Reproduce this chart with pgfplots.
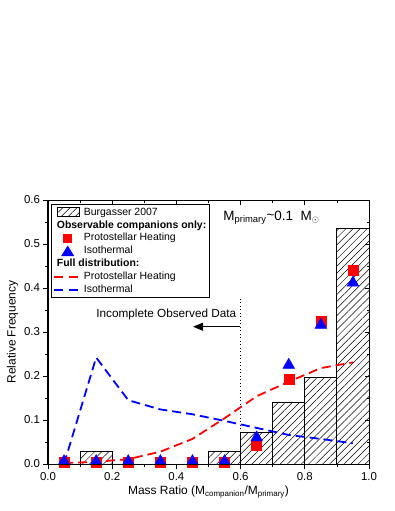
\documentclass[border=0pt]{standalone}
\usepackage{pgfplots}
\pgfplotsset{compat=1.18}
\usepackage{fontspec}
\setmainfont{Liberation Sans}
\usetikzlibrary{patterns.meta,arrows.meta}
\tikzset{hatch/.style={pattern={Lines[angle=45,distance=5bp,line width=0.5pt]}, pattern color=black}}
\newcommand{\fs}[1]{\fontsize{#1}{#1}\selectfont}
\begin{document}
\begin{tikzpicture}
\path[use as bounding box] (-48bp,-47bp) rectangle (347bp,464bp);
\begin{axis}[
  width=321bp, height=264bp, scale only axis,
  xmin=0, xmax=1, ymin=0, ymax=0.6,
  xtick={0,0.2,0.4,0.6,0.8,1.0}, ytick={0,0.1,0.2,0.3,0.4,0.5,0.6},
  minor x tick num=1, minor y tick num=1,
  xtick pos=left, ytick pos=left, tick align=outside,
  major tick length=4.5bp, minor tick length=2.5bp,
  axis line style={line width=1bp}, every tick/.style={black, line width=0.8bp},
  /pgf/number format/.cd, fixed, fixed zerofill, precision=1, assume math mode=true,
  /pgfplots/.cd,
  tick label style={font=\fs{11.5}},
  xlabel={Mass Ratio (M\textsubscript{companion}/M\textsubscript{primary})},
  ylabel={Relative Frequency},
  label style={font=\fs{12}},
  xlabel style={yshift=1bp},
  ylabel style={yshift=-1bp},
  clip=false,
  legend style={at={(0.009,0.985)}, anchor=north west, draw=black, line width=0.8bp,
     inner sep=1.5bp, font=\fs{10.5}, row sep=0bp,
     nodes={inner sep=1.3bp, text height=8bp, text depth=2.3bp}},
  legend cell align=left,
]
% histogram
\addplot[ybar interval, draw=black, line width=0.9bp, hatch, forget plot] coordinates {
 (0.0,0) (0.1,0.028) (0.2,0) (0.3,0) (0.4,0) (0.5,0.028) (0.6,0.071) (0.7,0.141) (0.8,0.197) (0.9,0.535) (1.0,0.535)};
% dotted line
\addplot[black, line width=1bp, dash pattern=on 1bp off 2.5bp, forget plot] coordinates {(0.6,0) (0.6,0.375)};
% full distributions
\addplot[red, line width=1.8bp, dash pattern=on 9bp off 5bp, forget plot] coordinates {
 (0.05,0.002) (0.15,0.005) (0.25,0.011) (0.35,0.028) (0.45,0.057) (0.55,0.104) (0.65,0.154) (0.75,0.187) (0.85,0.218) (0.95,0.231)};
\addplot[blue, line width=1.8bp, dash pattern=on 9bp off 5bp, forget plot] coordinates {
 (0.05,0.0) (0.15,0.242) (0.25,0.145) (0.35,0.124) (0.45,0.113) (0.55,0.098) (0.65,0.082) (0.75,0.066) (0.85,0.057) (0.95,0.047)};
% observable
\addplot[only marks, mark=square*, mark size=5bp, red, forget plot] coordinates {
 (0.05,0.003) (0.15,0.003) (0.25,0.003) (0.35,0.003) (0.45,0.003) (0.55,0.003) (0.65,0.043) (0.75,0.193) (0.85,0.325) (0.95,0.44)};
\addplot[only marks, mark=triangle*, mark size=6.8bp, blue, forget plot] coordinates {
 (0.05,0.006) (0.15,0.006) (0.25,0.006) (0.35,0.006) (0.45,0.006) (0.55,0.006) (0.65,0.06) (0.75,0.225) (0.85,0.316) (0.95,0.412)};
% annotations
\draw[-{Triangle[length=10bp,width=8bp]}, line width=1.2bp] (axis cs:0.598,0.312) -- (axis cs:0.452,0.312);
\node[anchor=east, font=\fs{11.8}, inner sep=0pt] at (axis cs:0.587,0.341) {Incomplete Observed Data};
\node[anchor=west, font=\fs{13.5}, inner sep=0pt] at (axis cs:0.546,0.56) {M\textsubscript{primary}\raisebox{1bp}{\textasciitilde}0.1\ \ M$_{\odot}$};
% legend
\addlegendimage{draw=black, line width=0.7bp, hatch, legend image code/.code={\draw (4bp,-4.5bp) rectangle (26bp,4.5bp);}}
\addlegendentry{Burgasser 2007}
\addlegendimage{draw=none, legend image code/.code={\path (0bp,0bp);}}
\addlegendentry{\hspace*{-27bp}\textbf{Observable companions only:}}
\addlegendimage{fill=red, draw=none, legend image code/.code={\fill (9.5bp,-4.5bp) rectangle (18.5bp,4.5bp);}}
\addlegendentry{Protostellar Heating}
\addlegendimage{fill=blue, draw=none, legend image code/.code={\fill (14bp,5.5bp) -- (7.5bp,-5bp) -- (20.5bp,-5bp) -- cycle;}}
\addlegendentry{Isothermal}
\addlegendimage{draw=none, legend image code/.code={\path (0bp,0bp);}}
\addlegendentry{\hspace*{-27bp}\textbf{Full distribution:}}
\addlegendimage{draw=red, line width=1.8bp, dash pattern=on 9bp off 6bp, legend image code/.code={\draw (0bp,0bp) -- (28bp,0bp);}}
\addlegendentry{Protostellar Heating}
\addlegendimage{draw=blue, line width=1.8bp, dash pattern=on 9bp off 6bp, legend image code/.code={\draw (0bp,0bp) -- (28bp,0bp);}}
\addlegendentry{Isothermal}
\end{axis}
\begin{axis}[
  width=321bp, height=264bp, scale only axis,
  xmin=0, xmax=1, ymin=0, ymax=0.6,
  xtick={0,0.2,0.4,0.6,0.8,1.0}, ytick={0,0.1,0.2,0.3,0.4,0.5,0.6},
  minor x tick num=1, minor y tick num=1,
  xtick pos=right, ytick pos=right, tick align=inside,
  major tick length=4.5bp, minor tick length=2.5bp,
  axis line style={line width=1bp}, every tick/.style={black, line width=0.8bp},
  xticklabels={}, yticklabels={},
]
\end{axis}
\end{tikzpicture}
\end{document}
